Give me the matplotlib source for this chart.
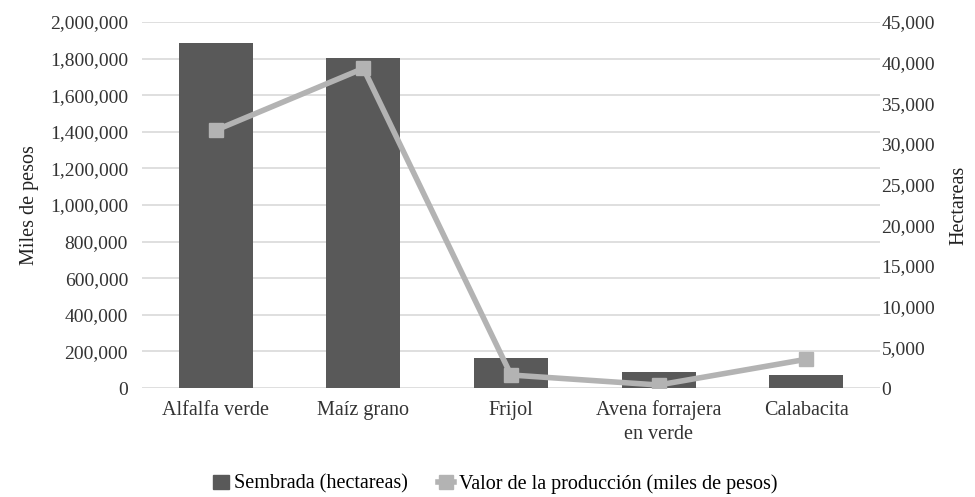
import matplotlib
matplotlib.use("Agg")
import matplotlib.pyplot as plt
from matplotlib.ticker import FuncFormatter, MultipleLocator
from matplotlib.lines import Line2D
from matplotlib.patches import Patch

categories = ["Alfalfa verde", "Maíz grano", "Frijol", "Avena forrajera\nen verde", "Calabacita"]
sembrada = [1885000, 1803000, 166000, 90000, 71000]
valor = [31700, 39300, 1600, 370, 3530]

plt.rcParams['font.family'] = ['Liberation Serif', 'DejaVu Serif']

fig = plt.figure(figsize=(9.75, 4.97), dpi=100)
ax = fig.add_axes([0.1456, 0.2193, 0.757, 0.7364])
ax2 = ax.twinx()

bar_color = "#595959"
line_color = "#b3b3b3"
x = list(range(len(categories)))
ax.bar(x, sembrada, width=0.5, color=bar_color, zorder=2)
ax2.plot(x, valor, color=line_color, lw=4, marker="s", markersize=10, zorder=3)

ax.set_xlim(-0.5, len(categories) - 0.5)
ax.set_ylim(0, 2000000)
ax2.set_ylim(0, 45000)
ax.yaxis.set_major_locator(MultipleLocator(200000))
ax2.yaxis.set_major_locator(MultipleLocator(5000))
fmt = FuncFormatter(lambda v, p: f"{int(v):,}")
ax.yaxis.set_major_formatter(fmt)
ax2.yaxis.set_major_formatter(fmt)
ax.grid(axis="y", color="#d9d9d9", lw=1.2, zorder=0)
ax.set_axisbelow(True)
ax.set_xticks(x)
ax.set_xticklabels(categories, fontsize=14.5, color="#222222", linespacing=1.3)
for a in (ax, ax2):
    for s in a.spines.values():
        s.set_visible(False)
    a.tick_params(length=0, colors="#333333")
ax.tick_params(axis="y", pad=10, labelsize=14)
ax2.tick_params(axis="y", pad=1, labelsize=14)
ax.tick_params(axis="x", pad=9)

ax.set_ylabel("Miles de pesos", fontsize=14.5, color="#222222", labelpad=8)
ax2.set_ylabel("Hectareas", fontsize=14.5, color="#222222", labelpad=10)
ax.set_zorder(ax2.get_zorder() - 1)
ax2.patch.set_visible(False)

handles = [Patch(color=bar_color, label="Sembrada (hectareas)"),
           Line2D([0], [0], color=line_color, lw=4, marker="s", markersize=10,
                  label="Valor de la producción (miles de pesos)")]
fig.legend(handles=handles, loc="center", bbox_to_anchor=(0.508, 0.026), ncol=2,
           frameon=False, fontsize=14.5, handlelength=0.8, handleheight=0.75,
           handletextpad=0.25, columnspacing=1.5)

fig.savefig("out.png", dpi=100)
